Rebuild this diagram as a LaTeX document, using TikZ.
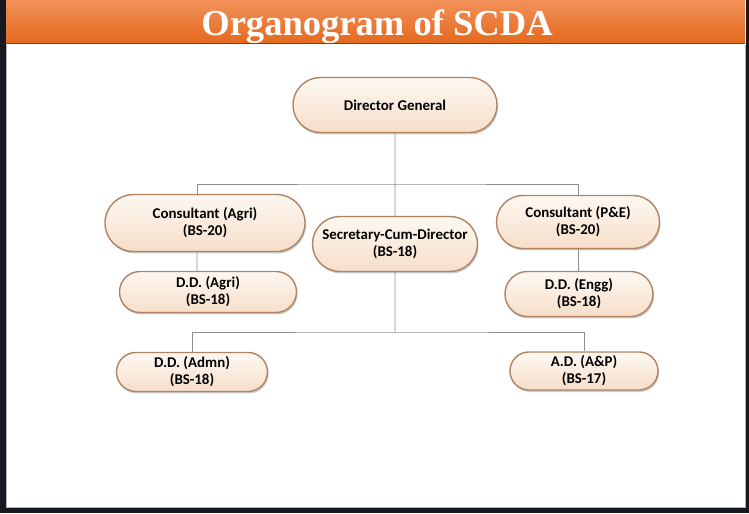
\documentclass[tikz,border=0pt]{standalone}
\usepackage{fontspec}
\setmainfont{Carlito}
\newfontfamily\titlefont{Liberation Serif}
\usetikzlibrary{shapes.misc, shadows}
\definecolor{slidebg}{HTML}{16191D}
\definecolor{slideedge}{HTML}{AEB4B8}
\definecolor{bannertop}{HTML}{F2915A}
\definecolor{bannerbot}{HTML}{E4691E}
\definecolor{bannerline}{HTML}{6B4A35}
\definecolor{posttop}{HTML}{FEF8F2}
\definecolor{postbot}{HTML}{F6DEC9}
\definecolor{postborder}{HTML}{B08363}
\definecolor{linkgrey}{HTML}{8E8E8E}

\begin{document}
\begin{tikzpicture}[x=0.025cm, y=-0.025cm,
  postbox/.style={rounded rectangle, draw=postborder, line width=1pt,
    top color=posttop, bottom color=postbot,
    drop shadow={opacity=0.4, shadow xshift=0.7pt, shadow yshift=-1.4pt},
    font=\fontsize{10.6}{12.2}\selectfont\bfseries, align=center, inner sep=0pt},
  link/.style={draw=linkgrey, line width=0.6pt}]

% Slide frame
\fill[slidebg] (0,0) rectangle (749,513);
\useasboundingbox (0,0) rectangle (749,513);
\fill[white] (6,0) rectangle (746,508);
\draw[slideedge, line width=0.5pt] (6.5,45) -- (6.5,507.5) -- (745.5,507.5) -- (745.5,45);

% Title banner
\shade[top color=bannertop, bottom color=bannerbot] (6,0) rectangle (745,43);
\draw[bannerline, line width=1pt] (6,43.5) -- (745,43.5);
\node[text=white, anchor=base, font=\titlefont\fontsize{26}{30}\selectfont\bfseries] (title) at (377,35) {Organogram of SCDA};

% Posts
\node[postbox, minimum width=5.1cm, minimum height=1.375cm] (dg) at (395,105) {Director General};
\node[postbox, minimum width=5.0cm, minimum height=1.425cm] (cagri) at (205,223) {Consultant (Agri)\\(BS-20)};
\node[postbox, minimum width=4.125cm, minimum height=1.375cm] (sec) at (395,244) {Secretary-Cum-Director\\(BS-18)};
\node[postbox, minimum width=4.075cm, minimum height=1.325cm] (cpe) at (578,222) {Consultant (P\&E)\\(BS-20)};
\node[postbox, minimum width=4.425cm, minimum height=1.025cm] (ddagri) at (208,292) {D.D. (Agri)\\(BS-18)};
\node[postbox, minimum width=3.7cm, minimum height=1.125cm] (ddengg) at (579,294) {D.D. (Engg)\\(BS-18)};
\node[postbox, minimum width=3.775cm, minimum height=0.975cm] (admn) at (192,372) {D.D. (Admn)\\(BS-18)};
\node[postbox, minimum width=3.7cm, minimum height=0.95cm] (ap) at (584,371) {A.D. (A\&P)\\(BS-17)};

% Connectors
\coordinate (topbus) at (395,184);
\coordinate (lowbus) at (395,332);
\draw[link] (dg) -- (sec);
\draw[link] ([xshift=-0.2cm]cagri.north) |- (topbus) -| (cpe.north);
\draw[link] ([xshift=-0.2cm]cagri.south) -- ([xshift=-0.275cm]ddagri.north);
\draw[link] (cpe.south) -- (cpe.south |- ddengg.north);
\draw[link] (sec) -- (lowbus);
\draw[link] (admn.north) |- (lowbus) -| (ap.north);

\end{tikzpicture}
\end{document}
